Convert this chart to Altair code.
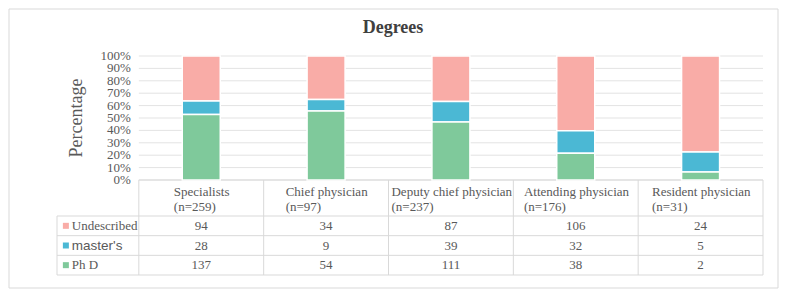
import altair as alt
import pandas as pd

# ---------------- data ----------------
categories = ["Specialists", "Chief physician", "Deputy chief physician",
              "Attending physician", "Resident physician"]
n_total = [259, 97, 237, 176, 31]
series = ["Undescribed", "master's", "Ph D"]
undescribed = [94, 34, 87, 106, 24]
masters = [28, 9, 39, 32, 5]
phd = [137, 54, 111, 38, 2]
y_ticks = [0.0, 0.1, 0.2, 0.3, 0.4, 0.5, 0.6, 0.7, 0.8, 0.9, 1.0]
colors = ["#F9ACA7", "#4BB8D4", "#7FC99B"]

# ---------------- layout constants ----------------
W, H = 716, 219
PXU = W / (5 + 83 / 126.6)          # px per category column
LABW = 83 / PXU                      # width of the label column (x units)
YPX = 124.0                          # px per 100 %
XMIN, XMAX = -LABW, 5.0
YMIN, YMAX = -95 / YPX, 1.0
HDR = -36 / YPX                      # bottom of header row
ROWH = (95 - 36) / 3 / YPX
row_bounds = [HDR - k * ROWH for k in range(4)]
row_centers = [HDR - (k + 0.5) * ROWH for k in range(3)]

serif = "Liberation Serif"
sans = "Liberation Sans"
grey = "#595959"
line_col = "#D9D9D9"

xs = alt.Scale(domain=[XMIN, XMAX], nice=False, zero=False)
ys = alt.Scale(domain=[YMIN, YMAX], nice=False, zero=False)

# Times New Roman advance widths (1/1000 em) for header centering
tw = {" ": 250, "a": 444, "c": 444, "d": 500, "e": 444, "f": 333, "g": 500,
      "h": 500, "i": 278, "l": 278, "n": 500, "p": 500, "r": 333, "s": 389,
      "t": 278, "u": 500, "y": 500, "A": 722, "C": 667, "D": 722, "R": 667,
      "S": 556}


def text_w(s, size=13):
    return sum(tw.get(ch, 500) for ch in s) * size / 1000.0


# ---------------- frames ----------------
values_by_series = {"Undescribed": undescribed, "master's": masters, "Ph D": phd}
order_of = {"Ph D": 0, "master's": 1, "Undescribed": 2}

bars_df = pd.DataFrame([
    {"xc": i + 0.5, "series": s, "value": values_by_series[s][i], "ord": order_of[s]}
    for i in range(len(categories)) for s in series
])

grid_df = pd.DataFrame({"y": y_ticks, "x": 0.0, "x2": 5.0,
                        "label": [f"{int(round(t * 100))}%" for t in y_ticks]})

segs = []
for c in range(6):
    segs.append({"x": float(c), "x2": float(c), "y": 0.0, "y2": YMIN})
segs.append({"x": XMIN, "x2": XMIN, "y": HDR, "y2": YMIN})
segs.append({"x": 0.0, "x2": 5.0, "y": 0.0, "y2": 0.0})
for b in row_bounds:
    segs.append({"x": XMIN, "x2": 5.0, "y": b, "y2": b})
lines_df = pd.DataFrame(segs)

hdr_df = pd.DataFrame({
    "x": [i + 0.5 - text_w(categories[i]) / 2 / PXU for i in range(5)],
    "y": -16 / YPX,
    "text": [f"{categories[i]}\n(n={n_total[i]})" for i in range(5)],
})

cells_df = pd.DataFrame([
    {"x": i + 0.5, "y": row_centers[r], "text": str(values_by_series[s][i])}
    for r, s in enumerate(series) for i in range(5)
])

labels_df = pd.DataFrame({
    "series": series,
    "y": row_centers,
    "xs": XMIN + 9 / PXU,
    "xt": XMIN + 15 / PXU,
})

ytitle_df = pd.DataFrame({"x": [XMIN + 20 / PXU], "y": [0.5], "text": ["Percentage"]})

# ---------------- layers ----------------
grid = alt.Chart(grid_df).mark_rule(color="#E3E3E3", strokeWidth=1).encode(
    x=alt.X("x:Q", scale=xs, axis=None),
    x2="x2:Q",
    y=alt.Y("y:Q", scale=ys, axis=None),
)

ticklabels = alt.Chart(grid_df).mark_text(
    align="right", baseline="middle", dx=-8, font=serif, fontSize=13, color=grey
).encode(x=alt.X("x:Q", scale=xs, axis=None),
         y=alt.Y("y:Q", scale=ys, axis=None), text="label:N")

ytitle = alt.Chart(ytitle_df).mark_text(
    align="center", baseline="middle", angle=270, font=serif, fontSize=18, color=grey
).encode(x=alt.X("x:Q", scale=xs, axis=None),
         y=alt.Y("y:Q", scale=ys, axis=None), text="text:N")

table_lines = alt.Chart(lines_df).mark_rule(color=line_col, strokeWidth=1).encode(
    x=alt.X("x:Q", scale=xs, axis=None), x2="x2:Q",
    y=alt.Y("y:Q", scale=ys, axis=None), y2="y2:Q")

bars = alt.Chart(bars_df).mark_bar(size=38, stroke="white", strokeWidth=1.5).encode(
    x=alt.X("xc:Q", scale=xs, axis=None),
    y=alt.Y("value:Q", stack="normalize", scale=ys, axis=None),
    color=alt.Color("series:N", scale=alt.Scale(domain=series, range=colors), legend=None),
    order=alt.Order("ord:Q"),
)

headers = alt.Chart(hdr_df).mark_text(
    align="left", baseline="alphabetic", lineBreak="\n", lineHeight=15,
    font=serif, fontSize=13, color=grey
).encode(x=alt.X("x:Q", scale=xs, axis=None),
         y=alt.Y("y:Q", scale=ys, axis=None), text="text:N")

cells = alt.Chart(cells_df).mark_text(
    align="center", baseline="middle", font=serif, fontSize=13, color=grey
).encode(x=alt.X("x:Q", scale=xs, axis=None),
         y=alt.Y("y:Q", scale=ys, axis=None), text="text:N")

squares = alt.Chart(labels_df).mark_square(size=36, opacity=1).encode(
    x=alt.X("xs:Q", scale=xs, axis=None),
    y=alt.Y("y:Q", scale=ys, axis=None),
    color=alt.Color("series:N", scale=alt.Scale(domain=series, range=colors), legend=None),
)

lab_serif = alt.Chart(labels_df).transform_filter(
    alt.datum.series != "master's"
).mark_text(align="left", baseline="middle", font=serif, fontSize=13, color=grey).encode(
    x=alt.X("xt:Q", scale=xs, axis=None),
    y=alt.Y("y:Q", scale=ys, axis=None), text="series:N")

lab_sans = alt.Chart(labels_df).transform_filter(
    alt.datum.series == "master's"
).mark_text(align="left", baseline="middle", font=sans, fontSize=13.5, color=grey).encode(
    x=alt.X("xt:Q", scale=xs, axis=None),
    y=alt.Y("y:Q", scale=ys, axis=None), text="series:N")

frame = alt.Chart(pd.DataFrame({"a": [0]})).mark_rect(
    fill="transparent", stroke="#D9D9D9", strokeWidth=1
).encode(x=alt.value(-43), x2=alt.value(726), y=alt.value(-47), y2=alt.value(232))

chart = alt.layer(
    frame, grid, ticklabels, ytitle, table_lines, bars, headers, cells, squares,
    lab_serif, lab_sans
).properties(
    width=W, height=H,
    background="white",
    title=alt.TitleParams("Degrees", font=serif, fontSize=18, fontWeight="bold",
                          color="#404040", anchor="middle", dx=-17, offset=0, dy=42,
                          baseline="alphabetic", frame="group"),
    autosize=alt.AutoSizeParams(type="none"),
    padding={"left": 44, "top": 48, "right": 11, "bottom": 16},
).configure_view(stroke=None)

chart.save("out.html", embed_options={"renderer": "svg", "actions": False})
